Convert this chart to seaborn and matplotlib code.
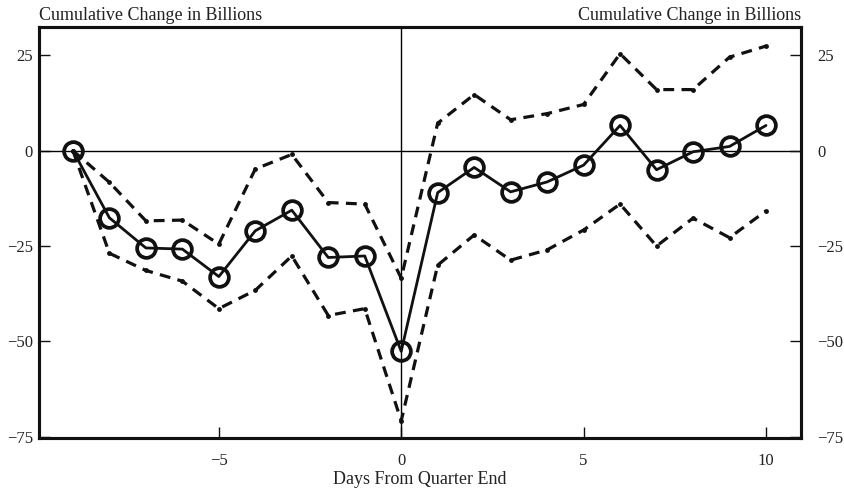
import matplotlib
matplotlib.use("Agg")
import matplotlib.pyplot as plt
import seaborn as sns
import pandas as pd

days = [-9, -8, -7, -6, -5, -4, -3, -2, -1, 0, 1, 2, 3, 4, 5, 6, 7, 8, 9, 10]
mean_change = [0, -17.6, -25.5, -25.8, -33.0, -21.0, -15.6, -28.0, -27.6, -52.6,
               -11.0, -4.4, -10.8, -8.2, -3.8, 6.6, -5.0, -0.3, 1.1, 6.6]
upper_band = [0, -8.3, -18.4, -18.2, -24.5, -4.8, -1.0, -13.6, -14.0, -33.4,
              7.2, 14.7, 8.1, 9.7, 12.1, 25.4, 16.0, 16.0, 24.5, 27.4]
lower_band = [0, -26.9, -31.4, -34.2, -41.4, -36.6, -27.6, -43.2, -41.4, -70.8,
              -30.0, -22.1, -28.7, -26.0, -20.8, -14.0, -25.0, -17.7, -22.8, -15.8]
y_ticks = [-75, -50, -25, 0, 25]
x_ticks = [-5, 0, 5, 10]

sns.set_theme(style="white")
plt.rcParams['font.family'] = ['Liberation Serif', 'DejaVu Serif']
plt.rcParams['axes.unicode_minus'] = True

df = pd.DataFrame({"day": days, "mean": mean_change, "upper": upper_band, "lower": lower_band})

fig = plt.figure(figsize=(8.44, 4.88), dpi=100)
ax = fig.add_axes([39/844, 50/488, (801-39)/844, (438-27)/488])

ax.axhline(0, color="black", lw=1.0, zorder=1)
ax.axvline(0, color="black", lw=1.0, zorder=1)

for col in ["upper", "lower"]:
    sns.lineplot(data=df, x="day", y=col, ax=ax, color="#111111", lw=2.3,
                 marker="o", markersize=3.5, markeredgewidth=0,
                 dashes=False, linestyle=(0, (3.4, 2.3)), zorder=2)

sns.lineplot(data=df, x="day", y="mean", ax=ax, color="#111111", lw=2.0,
             marker="o", markersize=13.5, markerfacecolor="none",
             markeredgecolor="#111111", markeredgewidth=2.7, zorder=3)

ylim = (-75.3, 32.4)
ax.set_xlim(-9.93, 10.96)
ax.set_ylim(*ylim)
ax.set_xticks(x_ticks)
ax.set_yticks(y_ticks)
ax.tick_params(axis="both", direction="in", length=8, width=1.0, colors="#111111",
               labelsize=12, labelcolor="#222222")
ax.tick_params(axis="y", left=True, right=False, pad=4.5)
ax.tick_params(axis="x", bottom=True, pad=10.5)
for s in ax.spines.values():
    s.set_linewidth(2.2)
    s.set_color("#111111")
    s.set_visible(True)

ax2 = ax.twinx()
ax2.set_ylim(*ylim)
ax2.set_yticks(y_ticks)
ax2.tick_params(axis="y", direction="in", length=8, width=1.0, colors="#111111",
                labelsize=12, labelcolor="#222222", pad=11.5)
for s in ax2.spines.values():
    s.set_linewidth(2.2)
    s.set_color("#111111")
ax2.grid(False)

ax.set_xlabel("Days From Quarter End", fontsize=13, color="#222222", labelpad=2)
ax.set_ylabel("")
ax.text(0, 1.008, "Cumulative Change in Billions", transform=ax.transAxes,
        ha="left", va="bottom", fontsize=13, color="#222222")
ax.text(1, 1.008, "Cumulative Change in Billions", transform=ax.transAxes,
        ha="right", va="bottom", fontsize=13, color="#222222")

fig.savefig("out.png", dpi=100)
